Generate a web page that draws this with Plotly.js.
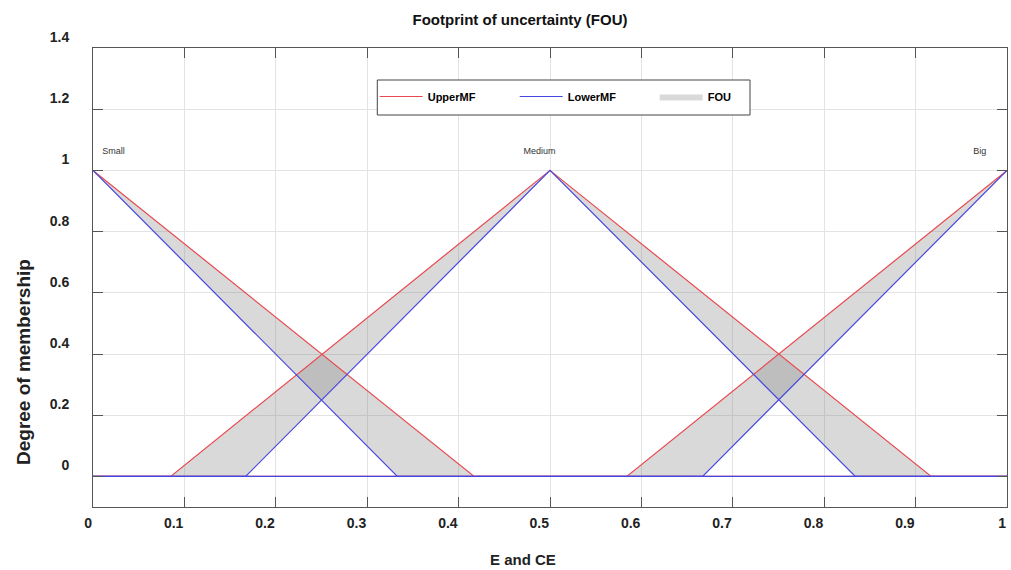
<!DOCTYPE html>
<html>
<head>
<meta charset="utf-8">
<script src="https://cdn.plot.ly/plotly-3.0.1.min.js"></script>
<style>html,body{margin:0;padding:0;background:#fff;}</style>
</head>
<body>
<div id="chart" style="width:1011px;height:570px;"></div>
<script>
// Triangular membership functions [a, b, c]
const mfNames = ['Small', 'Medium', 'Big'];
const upperMF = [[0, 0, 0.417], [0.085, 0.5, 0.917], [0.584, 1, 1]];
const lowerMF = [[0, 0, 0.333], [0.167, 0.5, 0.834], [0.667, 1, 1]];
const labelX = [0.01, 0.471, 0.963];
const labelY = [1.062, 1.062, 1.062];
const xTicks = [0, 0.1, 0.2, 0.3, 0.4, 0.5, 0.6, 0.7, 0.8, 0.9, 1];
const yTicks = [0, 0.2, 0.4, 0.6, 0.8, 1, 1.2, 1.4];

function trimf(x, p) {
  const [a, b, c] = p;
  if (x < a || x > c) return 0;
  if (x === b) return 1;
  if (x < b) return (x - a) / (b - a);
  return (c - x) / (c - b);
}
function mfPoints(p) {
  const xs = Array.from(new Set([0, p[0], p[1], p[2], 1])).sort((u, v) => u - v);
  return {x: xs, y: xs.map(v => trimf(v, p))};
}
function joined(mfs) {
  const x = [], y = [];
  mfs.forEach((p, i) => {
    const pts = mfPoints(p);
    if (i > 0) { x.push(null); y.push(null); }
    x.push(...pts.x); y.push(...pts.y);
  });
  return {x, y};
}

const FONT = '"Liberation Sans", Arial, sans-serif';
const traces = [];

// FOU fills (region between upper and lower MF)
mfNames.forEach((n, i) => {
  const u = mfPoints(upperMF[i]);
  const l = mfPoints(lowerMF[i]);
  traces.push({
    type: 'scatter', mode: 'lines', fill: 'toself',
    x: u.x.concat(l.x.slice().reverse()),
    y: u.y.concat(l.y.slice().reverse()),
    line: {width: 0, color: 'rgba(0,0,0,0)'},
    fillcolor: 'rgba(128,128,128,0.3)',
    name: 'FOU', legendgroup: 'fou', showlegend: i === 0, legendrank: 3,
    hoverinfo: 'skip'
  });
});
const up = joined(upperMF);
traces.push({
  type: 'scatter', mode: 'lines', x: up.x, y: up.y, connectgaps: false,
  line: {color: '#e8494f', width: 1.2}, name: 'UpperMF', legendrank: 1
});
const lo = joined(lowerMF);
traces.push({
  type: 'scatter', mode: 'lines', x: lo.x, y: lo.y, connectgaps: false,
  line: {color: '#4646e0', width: 1.2}, name: 'LowerMF', legendrank: 2
});
// MF name labels
traces.push({
  type: 'scatter', mode: 'text', x: labelX, y: labelY, text: mfNames,
  textposition: 'middle right', showlegend: false,
  textfont: {family: FONT, size: 9, color: '#333'}, hoverinfo: 'skip'
});

const layout = {
  width: 1011, height: 570, autosize: false,
  paper_bgcolor: '#fff', plot_bgcolor: '#fff',
  margin: {l: 93, r: 4, t: 48, b: 63, pad: 0},
  font: {family: FONT, color: '#222'},
  title: {
    text: '<b>Footprint of uncertainty (FOU)</b>',
    font: {family: FONT, size: 15, color: '#111'},
    x: 520 / 1011, xanchor: 'center', xref: 'container',
    y: 0.965, yanchor: 'middle', yref: 'container'
  },
  xaxis: {
    range: [0, 1], tickvals: xTicks, ticktext: xTicks.map(String),
    showgrid: true, gridcolor: '#e3e3e3', gridwidth: 1, zeroline: false,
    showline: true, linecolor: '#555', linewidth: 1, mirror: 'ticks',
    ticks: 'inside', ticklen: 10, tickcolor: '#555', tickwidth: 1,
    ticklabelposition: 'outside left', ticklabelstandoff: 3,
    tickfont: {family: FONT, size: 14, color: '#222', weight: 'bold'}
  },
  yaxis: {
    range: [-0.1, 1.4], tickvals: yTicks, ticktext: yTicks.map(String),
    showgrid: true, gridcolor: '#e3e3e3', gridwidth: 1, zeroline: false,
    showline: true, linecolor: '#555', linewidth: 1, mirror: 'ticks',
    ticks: 'inside', ticklen: 10, tickcolor: '#555', tickwidth: 1,
    ticklabelshift: -11, ticklabelstandoff: 20,
    tickfont: {family: FONT, size: 14, color: '#222', weight: 'bold'}
  },
  legend: {
    orientation: 'h', x: (374.7 - 93) / 914, y: (507 - 82) / 459,
    xanchor: 'left', yanchor: 'top', xref: 'paper', yref: 'paper',
    bgcolor: 'rgba(0,0,0,0)', borderwidth: 0,
    itemwidth: 43, entrywidth: 82, entrywidthmode: 'pixels',
    font: {family: FONT, size: 11, color: '#000', weight: 'bold'},
    traceorder: 'normal'
  },
  shapes: [
    {type: 'rect', xref: 'paper', yref: 'paper', layer: 'above',
     x0: (377.3 - 93) / 914, x1: (750 - 93) / 914,
     y0: (507 - 80) / 459, y1: (507 - 115) / 459,
     fillcolor: '#fff', line: {color: '#444', width: 1}}
  ],
  annotations: [
    {text: '<b>E and CE</b>', xref: 'paper', yref: 'paper',
     x: (523 - 93) / 914, y: (507 - 559) / 459, xanchor: 'center', yanchor: 'middle',
     showarrow: false, font: {family: FONT, size: 15, color: '#222'}},
    {text: '<b>Degree of membership</b>', xref: 'paper', yref: 'paper',
     x: (23 - 93) / 914, y: (507 - 362) / 459, xanchor: 'center', yanchor: 'middle',
     textangle: -90, showarrow: false, font: {family: FONT, size: 19, color: '#222'}}
  ]
};

Plotly.newPlot('chart', traces, layout, {displayModeBar: false, staticPlot: true});
</script>
</body>
</html>
